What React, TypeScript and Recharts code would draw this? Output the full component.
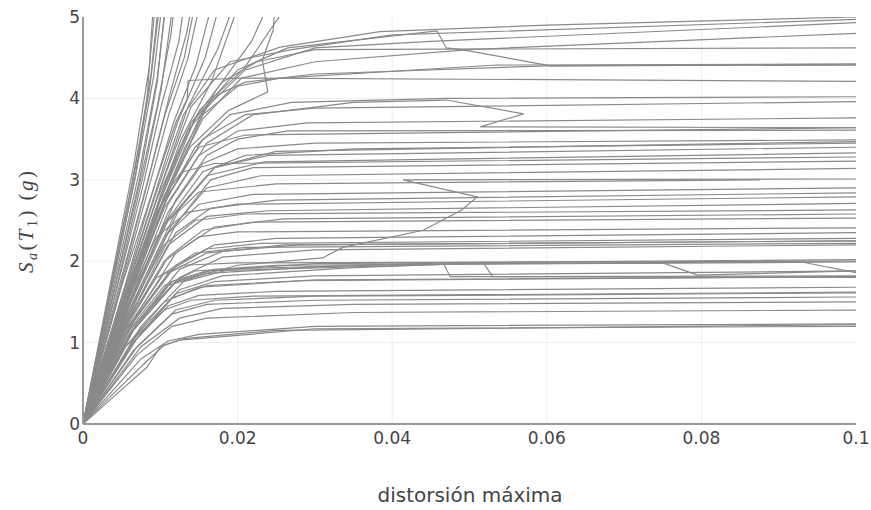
import { CartesianGrid, Line, LineChart, XAxis, YAxis } from "recharts";

type Pt = [number, number];

// curves that climb past the top of the plot
const steepCurves: Pt[][] = [
  [[0, 0], [0.0035, 1.6], [0.0067, 3.0], [0.0083, 4.0], [0.009, 5.0], [0.0093, 5.4]],
  [[0, 0], [0.0036, 1.75], [0.0066, 3.2], [0.0086, 4.4], [0.0095, 5.3]],
  [[0, 0], [0.0032, 1.5], [0.0062, 2.9], [0.0086, 4.1], [0.0101, 5.3]],
  [[0, 0], [0.0038, 1.7], [0.0069, 3.1], [0.0091, 4.25], [0.0104, 5.3]],
  [[0, 0], [0.0042, 1.8], [0.0074, 3.15], [0.0096, 4.25], [0.0109, 5.3]],
  [[0, 0], [0.0037, 1.5], [0.0072, 2.9], [0.0096, 3.9], [0.0114, 4.8], [0.012, 5.3]],
  [[0, 0], [0.0042, 1.6], [0.0077, 2.9], [0.0101, 3.9], [0.0124, 4.7], [0.0133, 5.3]],
  [[0, 0], [0.0043, 1.5], [0.0079, 2.8], [0.0106, 3.8], [0.0131, 4.5], [0.0146, 5.2]],
  [[0, 0], [0.0047, 1.6], [0.0082, 2.8], [0.0111, 3.8], [0.0136, 4.5], [0.0152, 5.2]],
  [[0, 0], [0.0048, 1.5], [0.0087, 2.75], [0.0117, 3.7], [0.0146, 4.4], [0.0168, 5.2]],
  [[0, 0], [0.0052, 1.6], [0.0092, 2.8], [0.0122, 3.7], [0.0158, 4.5], [0.0178, 5.2]],
  [[0, 0], [0.0052, 1.5], [0.0093, 2.6], [0.0127, 3.5], [0.0166, 4.2], [0.0203, 5.2]],
  [[0, 0], [0.0056, 1.6], [0.0097, 2.6], [0.0132, 3.4], [0.0172, 4.1], [0.0218, 4.7], [0.0242, 5.2]],
  [[0, 0], [0.0052, 1.45], [0.0097, 2.6], [0.0138, 3.4], [0.0188, 3.85], [0.0239, 4.08], [0.0232, 4.47], [0.0246, 4.84], [0.0249, 5.2]],
  [[0, 0], [0.0054, 1.5], [0.0098, 2.7], [0.0127, 3.4], [0.0151, 3.86], [0.0207, 4.35], [0.0268, 5.2]],
  [[0, 0], [0.0044, 1.7], [0.0079, 3.1], [0.0101, 4.1], [0.0117, 5.2]],
  [[0, 0], [0.0039, 1.6], [0.0073, 3.0], [0.0096, 4.2], [0.0107, 5.2]],
  [[0, 0], [0.0034, 1.6], [0.0065, 3.0], [0.0088, 4.3], [0.0098, 5.2]],
  [[0, 0], [0.0047, 1.7], [0.0084, 3.0], [0.0111, 4.0], [0.0134, 4.8], [0.0142, 5.2]],
  [[0, 0], [0.0057, 1.7], [0.01, 2.9], [0.0136, 3.9], [0.0174, 4.6], [0.0197, 5.2]],
];

// plateaus between ~3.6 and 5
const highCurves: Pt[][] = [
  [[0, 0], [0.005, 1.55], [0.0095, 2.85], [0.013, 3.8], [0.017, 4.35], [0.0255, 4.63], [0.0384, 4.82], [0.06, 4.9], [0.1, 5.0]],
  [[0, 0], [0.0055, 1.6], [0.01, 2.9], [0.014, 3.9], [0.019, 4.45], [0.027, 4.6], [0.04, 4.78], [0.1, 4.97]],
  [[0, 0], [0.0055, 1.5], [0.01, 2.75], [0.0145, 3.75], [0.02, 4.35], [0.0265, 4.62], [0.0458, 4.83], [0.047, 4.62], [0.049, 4.6], [0.0605, 4.4], [0.1, 4.41]],
  [[0, 0], [0.006, 1.6], [0.011, 2.9], [0.0155, 3.85], [0.021, 4.35], [0.03, 4.62], [0.045, 4.7], [0.1, 4.93]],
  [[0, 0], [0.0055, 1.5], [0.0105, 2.8], [0.0155, 3.75], [0.0205, 4.25], [0.03, 4.45], [0.05, 4.6], [0.1, 4.8]],
  [[0, 0], [0.005, 1.5], [0.0095, 2.75], [0.014, 3.7], [0.018, 4.2], [0.0225, 4.45], [0.03, 4.6], [0.1, 4.62]],
  [[0, 0], [0.0055, 1.55], [0.01, 2.8], [0.0135, 3.6], [0.0175, 4.05], [0.021, 4.2], [0.03, 4.3], [0.06, 4.4], [0.1, 4.42]],
  [[0, 0], [0.006, 1.6], [0.0115, 2.95], [0.0155, 3.8], [0.02, 4.15], [0.0255, 4.25], [0.0535, 4.41], [0.1, 4.42]],
  [[0, 0], [0.005, 1.7], [0.0095, 3.0], [0.012, 3.7], [0.0135, 4.0], [0.0136, 4.22], [0.02, 4.25], [0.1, 4.21]],
  [[0, 0], [0.0055, 1.45], [0.0105, 2.7], [0.0145, 3.4], [0.019, 3.8], [0.027, 3.95], [0.047, 4.0], [0.1, 4.02]],
  [[0, 0], [0.006, 1.5], [0.011, 2.7], [0.016, 3.45], [0.022, 3.8], [0.035, 3.95], [0.047, 3.98], [0.057, 3.81], [0.0514, 3.65], [0.1, 3.64]],
  [[0, 0], [0.006, 1.55], [0.011, 2.8], [0.0155, 3.5], [0.021, 3.8], [0.03, 3.88], [0.1, 3.96]],
  [[0, 0], [0.0055, 1.5], [0.0105, 2.65], [0.015, 3.3], [0.02, 3.6], [0.029, 3.7], [0.1, 3.76]],
  [[0, 0], [0.0065, 1.6], [0.012, 2.75], [0.016, 3.3], [0.02, 3.5], [0.0265, 3.6], [0.1, 3.61]],
  [[0, 0], [0.0055, 1.55], [0.0105, 2.8], [0.015, 3.4], [0.021, 3.55], [0.1, 3.64]],
];

// plateaus between ~2.2 and 3.5
const midCurves: Pt[][] = [
  [[0, 0], [0.006, 1.45], [0.011, 2.6], [0.0155, 3.2], [0.02, 3.38], [0.03, 3.45], [0.1, 3.49]],
  [[0, 0], [0.007, 1.55], [0.0125, 2.65], [0.017, 3.15], [0.025, 3.35], [0.1, 3.47]],
  [[0, 0], [0.0055, 1.35], [0.0105, 2.45], [0.0155, 3.1], [0.021, 3.3], [0.035, 3.38], [0.1, 3.45]],
  [[0, 0], [0.0065, 1.5], [0.012, 2.6], [0.017, 3.15], [0.024, 3.3], [0.1, 3.4]],
  [[0, 0], [0.006, 1.45], [0.011, 2.5], [0.016, 3.05], [0.0235, 3.22], [0.1, 3.33]],
  [[0, 0], [0.005, 1.45], [0.0095, 2.6], [0.013, 3.1], [0.017, 3.2], [0.1, 3.28]],
  [[0, 0], [0.0065, 1.4], [0.012, 2.45], [0.0165, 3.0], [0.022, 3.15], [0.1, 3.23]],
  [[0, 0], [0.006, 1.35], [0.011, 2.35], [0.016, 2.9], [0.023, 3.05], [0.1, 3.14]],
  [[0, 0], [0.0055, 1.4], [0.0105, 2.45], [0.015, 2.85], [0.025, 2.95], [0.0876, 3.0]],
  [[0, 0], [0.0065, 1.2], [0.012, 1.75], [0.02, 1.95], [0.031, 2.04], [0.0336, 2.17], [0.044, 2.38], [0.049, 2.63], [0.051, 2.79], [0.0414, 3.0], [0.1, 3.01]],
  [[0, 0], [0.0055, 1.3], [0.0105, 2.3], [0.015, 2.7], [0.022, 2.82], [0.1, 2.9]],
  [[0, 0], [0.0065, 1.4], [0.012, 2.35], [0.0165, 2.65], [0.025, 2.75], [0.1, 2.84]],
  [[0, 0], [0.005, 1.35], [0.0095, 2.3], [0.0135, 2.6], [0.02, 2.7], [0.1, 2.79]],
  [[0, 0], [0.006, 1.3], [0.011, 2.2], [0.016, 2.55], [0.024, 2.62], [0.1, 2.71]],
  [[0, 0], [0.0055, 1.3], [0.0105, 2.2], [0.0145, 2.5], [0.021, 2.58], [0.1, 2.63]],
  [[0, 0], [0.007, 1.35], [0.012, 2.1], [0.017, 2.42], [0.026, 2.52], [0.1, 2.58]],
  [[0, 0], [0.006, 1.25], [0.011, 2.05], [0.0155, 2.38], [0.022, 2.48], [0.1, 2.53]],
  [[0, 0], [0.0055, 1.2], [0.0105, 2.0], [0.015, 2.3], [0.02, 2.36], [0.1, 2.41]],
  [[0, 0], [0.0065, 1.25], [0.012, 1.95], [0.017, 2.2], [0.025, 2.28], [0.1, 2.35]],
  [[0, 0], [0.006, 1.2], [0.0115, 1.9], [0.016, 2.15], [0.023, 2.22], [0.1, 2.28]],
  [[0, 0], [0.007, 1.25], [0.0125, 1.9], [0.018, 2.12], [0.028, 2.2], [0.1, 2.25]],
  [[0, 0], [0.006, 1.2], [0.011, 1.85], [0.016, 2.1], [0.026, 2.2], [0.1, 2.25]],
  [[0, 0], [0.0055, 1.15], [0.0105, 1.85], [0.0145, 2.1], [0.021, 2.17], [0.1, 2.22]],
  [[0, 0], [0.0065, 1.15], [0.0125, 1.8], [0.018, 2.05], [0.03, 2.14], [0.1, 2.2]],
];

// plateaus between ~1.2 and 2
const lowCurves: Pt[][] = [
  [[0, 0], [0.006, 1.1], [0.011, 1.7], [0.016, 1.85], [0.03, 1.93], [0.0466, 1.98], [0.0475, 1.81], [0.1, 1.82]],
  [[0, 0], [0.007, 1.1], [0.0125, 1.65], [0.018, 1.82], [0.035, 1.92], [0.0518, 1.98], [0.053, 1.81], [0.1, 1.8]],
  [[0, 0], [0.0065, 1.15], [0.012, 1.75], [0.017, 1.9], [0.04, 1.96], [0.075, 1.98], [0.0795, 1.83], [0.1, 1.88]],
  [[0, 0], [0.006, 1.1], [0.0115, 1.75], [0.016, 1.88], [0.05, 1.97], [0.093, 1.99], [0.1, 1.86]],
  [[0, 0], [0.0055, 1.1], [0.0105, 1.7], [0.0145, 1.88], [0.025, 1.95], [0.1, 1.99]],
  [[0, 0], [0.0075, 1.2], [0.013, 1.75], [0.019, 1.9], [0.03, 1.97], [0.1, 2.02]],
  [[0, 0], [0.005, 1.15], [0.0095, 1.8], [0.013, 1.95], [0.02, 1.98], [0.1, 2.0]],
  [[0, 0], [0.007, 1.05], [0.012, 1.6], [0.017, 1.75], [0.03, 1.82], [0.1, 1.88]],
  [[0, 0], [0.0065, 1.0], [0.0115, 1.55], [0.016, 1.7], [0.028, 1.76], [0.1, 1.81]],
  [[0, 0], [0.0055, 0.95], [0.0105, 1.5], [0.015, 1.68], [0.03, 1.77], [0.1, 1.81]],
  [[0, 0], [0.006, 0.95], [0.011, 1.45], [0.015, 1.58], [0.025, 1.63], [0.1, 1.68]],
  [[0, 0], [0.007, 0.95], [0.012, 1.4], [0.017, 1.52], [0.03, 1.57], [0.1, 1.61]],
  [[0, 0], [0.0055, 0.95], [0.0105, 1.4], [0.014, 1.52], [0.022, 1.57], [0.1, 1.62]],
  [[0, 0], [0.0065, 0.9], [0.0115, 1.35], [0.016, 1.47], [0.03, 1.52], [0.1, 1.56]],
  [[0, 0], [0.0075, 0.95], [0.0125, 1.3], [0.018, 1.42], [0.035, 1.47], [0.1, 1.5]],
  [[0, 0], [0.007, 0.85], [0.0115, 1.2], [0.016, 1.3], [0.035, 1.37], [0.1, 1.4]],
  [[0, 0], [0.0075, 0.8], [0.011, 1.02], [0.015, 1.1], [0.03, 1.2], [0.1, 1.23]],
  [[0, 0], [0.0039, 0.33], [0.0083, 0.7], [0.01, 0.95], [0.0125, 1.03], [0.0164, 1.06], [0.03, 1.17], [0.1, 1.2]],
  [[0, 0], [0.004, 0.38], [0.008, 0.75], [0.0105, 0.97], [0.013, 1.05], [0.025, 1.15], [0.1, 1.22]],
];

const xTicks = [0, 0.02, 0.04, 0.06, 0.08, 0.1];
const yTicks = [0, 1, 2, 3, 4, 5];

const allCurves = [...steepCurves, ...highCurves, ...midCurves, ...lowCurves].map((c) =>
  c.map(([x, y]) => ({ x, y }))
);

const font = "'DejaVu Sans', Verdana, sans-serif";
const tick = { fill: "#444", fontSize: 17, fontFamily: font };
const axisLine = { stroke: "#9a9a9a", strokeWidth: 2 };

export default function App() {
  return (
    <div style={{ position: "absolute", left: 0, top: 0, width: 871, height: 510, background: "#fff" }}>
      <LineChart width={871} height={510} margin={{ top: 17, right: 15, left: 23, bottom: 56 }}>
        <CartesianGrid
          stroke="#eeeeee"
          horizontalValues={[1, 2, 3, 4]}
          verticalValues={[0.02, 0.04, 0.06, 0.08]}
        />
        <XAxis
          dataKey="x"
          type="number"
          domain={[0, 0.1]}
          ticks={xTicks}
          allowDataOverflow
          tick={tick}
          tickLine={false}
          tickSize={3}
          tickMargin={5}
          axisLine={axisLine}
          height={30}
          tickFormatter={(v: number) => String(v)}
          label={{
            content: () => (
              <text x={470} y={502} textAnchor="middle" fill="#444" fontSize={20} fontFamily={font}>
                distorsión máxima
              </text>
            ),
          }}
        />
        <YAxis
          dataKey="y"
          type="number"
          domain={[0, 5]}
          ticks={yTicks}
          allowDataOverflow
          tick={tick}
          tickLine={false}
          tickSize={3}
          tickMargin={0}
          axisLine={axisLine}
          width={60}
          label={{
            content: () => (
              <text
                x={33}
                y={222}
                transform="rotate(-90, 33, 222)"
                textAnchor="middle"
                fill="#444"
                fontSize={21}
                fontFamily="'Liberation Serif', serif"
                textLength={102}
                lengthAdjust="spacing"
              >
                <tspan fontStyle="italic">S</tspan>
                <tspan fontStyle="italic" fontSize={14} dy={4}>a</tspan>
                <tspan dy={-4}>(</tspan>
                <tspan fontStyle="italic">T</tspan>
                <tspan fontSize={14} dy={4}>1</tspan>
                <tspan dy={-4}>) (</tspan>
                <tspan fontStyle="italic">g</tspan>
                <tspan>)</tspan>
              </text>
            ),
          }}
        />
        {allCurves.map((d, i) => (
          <Line
            key={i}
            data={d}
            dataKey="y"
            type="linear"
            stroke="#8a8a8a"
            strokeWidth={1.2}
            dot={false}
            activeDot={false}
            isAnimationActive={false}
          />
        ))}
      </LineChart>
    </div>
  );
}
